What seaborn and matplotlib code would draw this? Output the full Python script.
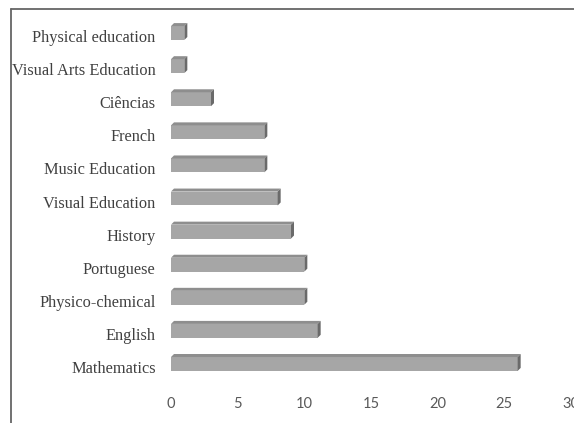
import matplotlib
matplotlib.use("Agg")
import matplotlib.pyplot as plt
import seaborn as sns
import pandas as pd
from matplotlib.patches import Polygon
from matplotlib.lines import Line2D
import matplotlib.transforms as mtransforms

subjects = ["Physical education", "Visual Arts Education", "Ciências", "French",
            "Music Education", "Visual Education", "History", "Portuguese",
            "Physico-chemical", "English", "Mathematics"]
counts = [1, 1, 3, 7, 7, 8, 9, 10, 10, 11, 26]
xticks = [0, 5, 10, 15, 20, 25, 30]

df = pd.DataFrame({"subject": subjects, "count": counts})

sns.set_theme(style="white")
plt.rcParams["font.family"] = ["Liberation Serif", "DejaVu Serif"]

W, H = 574, 423
fig = plt.figure(figsize=(W / 100, H / 100), dpi=100)
ax = fig.add_axes([171 / W, (H - 380.5) / H, 400 / W, 364 / H])

FRONT = "#a6a6a6"
TOP = "#8e8e8e"
SIDE = "#6a6a6a"

sns.barplot(data=df, y="subject", x="count", order=subjects, orient="h",
            color=FRONT, saturation=1, width=0.42, ax=ax, edgecolor="none",
            linewidth=0)

ax.set_xlim(0, 30)
ax.set_ylim(len(subjects) - 0.5, -0.5)
ax.set_xticks(xticks)
ax.set_xticklabels([str(t) for t in xticks], family=["Lato", "DejaVu Sans"],
                   fontsize=10.5, color="#595959")
ax.set_xlabel("")
ax.set_ylabel("")
ax.tick_params(axis="x", length=0, pad=12)
ax.tick_params(axis="y", length=0, pad=11, labelsize=11.8, labelcolor="#404040")
for lab in ax.get_yticklabels():
    lab.set_transform(lab.get_transform() +
                      mtransforms.ScaledTranslation(0, -3 / 100, fig.dpi_scale_trans))
for s in ax.spines.values():
    s.set_visible(False)

# 3D depth faces derived from the bar patches
px_x = ax.bbox.width / 30.0
px_y = ax.bbox.height / len(subjects)
dx = 3.0 / px_x
dy = 3.0 / px_y
for p in list(ax.patches):
    x0, y0 = p.get_x(), p.get_y()
    w, h = p.get_width(), p.get_height()
    ytop = min(y0, y0 + h)
    ybot = max(y0, y0 + h)
    top = Polygon([[x0, ytop], [x0 + w, ytop], [x0 + w + dx, ytop - dy], [x0 + dx, ytop - dy]],
                  closed=True, facecolor=TOP, edgecolor="none")
    side = Polygon([[x0 + w, ytop], [x0 + w + dx, ytop - dy], [x0 + w + dx, ybot - dy], [x0 + w, ybot]],
                   closed=True, facecolor=SIDE, edgecolor="none")
    ax.add_patch(top)
    ax.add_patch(side)

# outer frame (left and top edges visible)
fig.add_artist(Line2D([11 / W, 11 / W], [0, 1 - 9 / H], transform=fig.transFigure,
                      color="#666666", linewidth=1.3))
fig.add_artist(Line2D([11 / W, 1], [1 - 9 / H, 1 - 9 / H], transform=fig.transFigure,
                      color="#666666", linewidth=1.3))

fig.savefig("out.png", dpi=100)
